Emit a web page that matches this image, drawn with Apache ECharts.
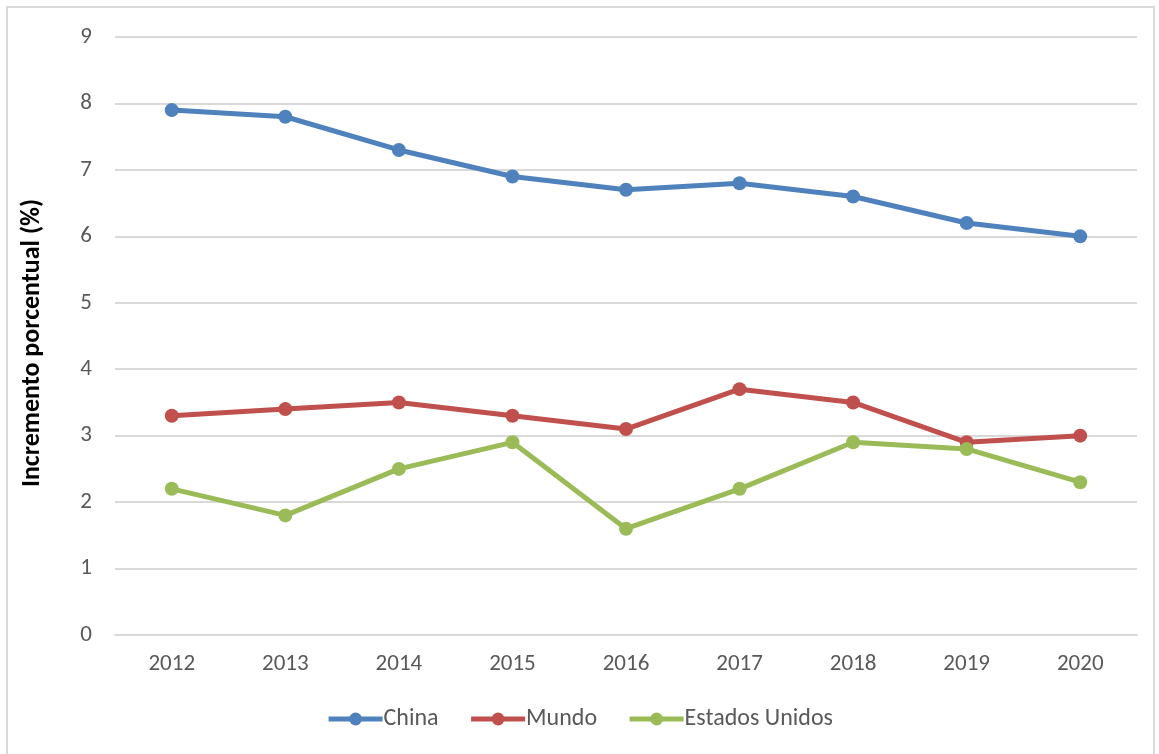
<!DOCTYPE html>
<html>
<head>
<meta charset="utf-8">
<script src="https://cdn.jsdelivr.net/npm/echarts@6/dist/echarts.min.js"></script>
<style>
  html, body { margin: 0; padding: 0; background: #fff; }
  #chart { width: 1159px; height: 754px; }
  #frame { position: absolute; left: 6px; top: 6px; width: 1149px; height: 760px; border: 2px solid #d9d9d9; box-sizing: border-box; pointer-events: none; }
</style>
</head>
<body>
<div id="chart"></div>
<div id="frame"></div>
<script>
const years = ['2012', '2013', '2014', '2015', '2016', '2017', '2018', '2019', '2020'];
const china = [7.9, 7.8, 7.3, 6.9, 6.7, 6.8, 6.6, 6.2, 6.0];
const mundo = [3.3, 3.4, 3.5, 3.3, 3.1, 3.7, 3.5, 2.9, 3.0];
const estadosUnidos = [2.2, 1.8, 2.5, 2.9, 1.6, 2.2, 2.9, 2.8, 2.3];

const myChart = echarts.init(document.getElementById('chart'));
const font = 'Carlito, "Open Sans", "Liberation Sans", sans-serif';

function line(name, data, color) {
  return {
    name: name,
    type: 'line',
    data: data,
    symbol: 'circle',
    symbolSize: 14,
    lineStyle: { width: 5, color: color },
    itemStyle: { color: color },
    emphasis: { disabled: true }
  };
}

const option = {
  animation: false,
  textStyle: { fontFamily: font },
  grid: { left: 115, right: 22, top: 37, bottom: 119, containLabel: false },
  legend: {
    bottom: 18,
    left: 'center',
    itemWidth: 54,
    itemHeight: 16,
    itemGap: 30,
    lineStyle: { width: 5 },
    textStyle: { fontSize: 24, color: '#595959', fontFamily: font, padding: [0, 0, 0, -4] }
  },
  xAxis: {
    type: 'category',
    data: years,
    boundaryGap: true,
    axisLine: { lineStyle: { color: '#d9d9d9', width: 2 } },
    axisTick: { show: false },
    axisLabel: { fontSize: 23, color: '#595959', margin: 18 }
  },
  yAxis: {
    type: 'value',
    min: 0,
    max: 9,
    interval: 1,
    name: 'Incremento porcentual (%)',
    nameLocation: 'middle',
    nameGap: 70,
    nameTextStyle: { fontSize: 26, fontWeight: 'bold', color: '#000', padding: [0, 14, 0, 0] },
    axisLine: { show: false },
    axisTick: { show: false },
    axisLabel: { fontSize: 23, color: '#595959', margin: 23 },
    splitLine: { lineStyle: { color: '#d9d9d9', width: 2 } }
  },
  series: [
    line('China', china, '#4f81bd'),
    line('Mundo', mundo, '#c0504d'),
    line('Estados Unidos', estadosUnidos, '#9bbb59')
  ]
};
myChart.setOption(option);
</script>
</body>
</html>
